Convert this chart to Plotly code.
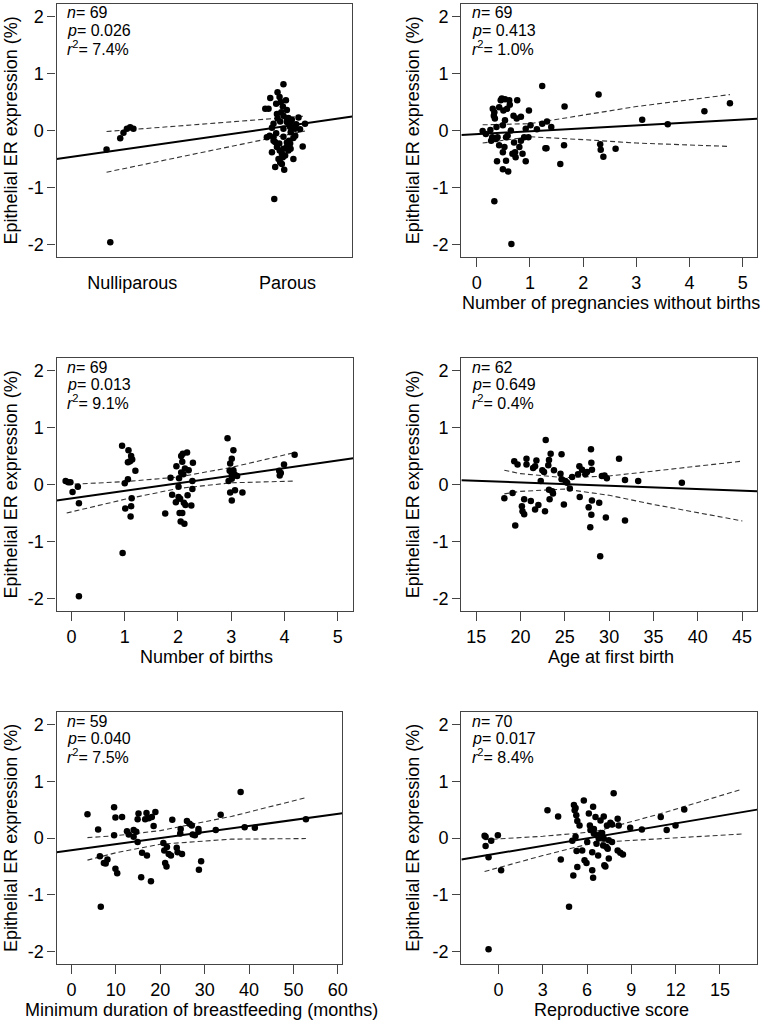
import plotly.graph_objects as go

W, H = 771, 1028

# ----------------------
# Data
# ----------------------
# Panel 1: parity (0 = Nulliparous, 1 = Parous; x jittered as drawn)
parity_x = [-0.165, -0.077, -0.056, -0.034, -0.013, 0.008, -0.141,
            0.974, 0.936, 0.889, 0.949, 0.957, 0.857, 0.878, 0.970, 0.996, 0.932,
            0.974, 1.006, 1.071, 0.936, 1.028, 1.113, 0.953, 0.996, 1.056, 0.900,
            1.017, 1.081, 0.885, 0.927, 0.974, 1.038, 0.910, 0.996, 1.017, 1.098,
            0.932, 0.974, 1.006, 0.900, 0.964, 0.985, 0.942, 1.038, 0.953, 0.964,
            0.921, 0.979, 0.915, 0.867, 0.947, 0.996, 1.021, 1.049, 0.974, 0.910,
            0.927, 0.996, 0.960, 0.990, 1.020, 0.920, 1.010, 0.950, 0.910, 1.050,
            0.970, 1.020]
parity_y = [-0.334, -0.135, -0.041, 0.029, 0.059, 0.029, -1.963,
            0.81, 0.67, 0.57, 0.59, 0.50, 0.38, 0.38, 0.42, 0.36, 0.29,
            0.26, 0.22, 0.23, 0.21, 0.19, 0.12, 0.16, 0.15, 0.11, 0.05,
            0.06, 0.02, -0.09, -0.05, -0.11, -0.13, -0.18, -0.21, -0.23, -0.28,
            -0.29, -0.32, -0.35, -0.38, -0.41, -0.44, -0.50, -0.50, -0.56, -0.59,
            -0.64, -0.69, -1.20, -0.12, -0.23, -0.29, -0.03, 0.03, 0.03, 0.12,
            0.47, 0.21, 0.32, 0.53, 0.15, -0.20, -0.18, -0.35, -0.12, -0.09,
            -0.47, -0.32]
parity_fit_x = [-0.487, 1.417]
parity_fit_y = [-0.50, 0.244]
parity_ci_x = [-0.165, 1.113]
parity_ci_up = [-0.018, 0.252]
parity_ci_lo = [-0.732, -0.01]

# Panel 2: number of pregnancies without births
preg_x = [0.11, 0.255, 0.27, 0.32, 0.33, 0.34, 0.37, 0.39, 0.42, 0.42, 0.38, 0.33,
          0.47, 0.49, 0.49, 0.50, 0.53, 0.53, 0.55, 0.55, 0.57, 0.58, 0.59, 0.62,
          0.65, 0.67, 0.69, 0.70, 0.72, 0.76, 0.75, 0.83, 0.83, 0.86, 0.92, 0.92,
          0.97, 0.98, 1.01, 1.13, 1.23, 1.23, 1.29, 1.31, 1.32, 1.40, 1.57, 1.64,
          1.65, 2.29, 2.32, 2.33, 2.38, 2.61, 3.11, 3.59, 4.28, 4.76,
          0.17, 0.30, 0.36, 0.45, 0.52, 0.61, 0.64, 0.73, 0.80, 0.89, 0.49, 0.29]
preg_y = [-0.01, 0.01, -0.18, 0.26, 0.32, 0.21, 0.06, -0.12, 0.41, -0.26, -0.54, -1.24,
          0.56, -0.38, -0.68, 0.35, 0.55, 0.18, -0.12, -0.53, 0.38, -0.09, -0.72, 0.45,
          -1.99, -0.41, 0.26, -0.21, -0.38, 0.53, 0.21, 0.24, -0.18, -0.41, 0.03, -0.54,
          -0.12, 0.35, 0.09, 0.02, 0.78, 0.12, -0.31, -0.31, 0.16, 0.06, -0.59, -0.26,
          0.42, 0.63, -0.24, -0.34, -0.46, -0.32, 0.19, 0.11, 0.34, 0.48,
          -0.06, 0.38, -0.15, 0.53, -0.29, 0.53, 0.0, -0.47, -0.29, -0.12, 0.09, -0.12]
preg_fit_x = [-0.29, 5.27]
preg_fit_y = [-0.078, 0.206]
preg_ci_x = [0.11, 1.0, 2.0, 3.0, 4.76]
preg_ci_up = [0.10, 0.12, 0.27, 0.42, 0.63]
preg_ci_lo = [-0.22, -0.11, -0.16, -0.22, -0.28]

# Panel 3: number of births
births_x = [-0.11, -0.06, -0.02, 0.02, 0.12, 0.14, 0.14,
            0.95, 1.07, 1.12, 1.14, 1.06, 1.20, 1.06, 1.00, 1.13, 1.01, 1.12, 1.11, 0.96,
            1.76, 1.86, 1.97, 2.02, 2.01, 2.01, 1.96, 2.04, 2.06, 2.09, 2.17, 2.08, 2.06,
            2.13, 2.20, 2.10, 2.27, 2.28, 2.27, 2.18, 2.11, 2.14, 2.25, 2.03, 2.08, 2.05,
            2.12,
            2.93, 3.04, 3.01, 2.98, 2.97, 3.04, 3.01, 3.11, 2.95, 3.01, 2.98, 3.07, 3.21,
            3.01,
            3.90, 3.91, 3.99, 4.19,
            3.06, 1.89, 1.10, 3.93]
births_y = [0.06, 0.04, 0.04, -0.13, -0.04, -0.33, -1.96,
            0.68, 0.60, 0.50, 0.44, 0.39, 0.24, 0.09, 0.02, -0.24, -0.42, -0.38, -0.56, -1.20,
            -0.51, 0.12, 0.32, 0.11, -0.04, -0.22, -0.31, -0.25, 0.50, 0.54, 0.56, 0.40, 0.21,
            0.28, 0.25, 0.18, 0.06, 0.38, -0.08, -0.19, -0.32, -0.36, -0.37, -0.50, -0.50,
            -0.65, -0.69,
            0.81, 0.60, 0.45, 0.37, 0.24, 0.25, 0.19, 0.15, 0.06, 0.10, -0.14, -0.10, -0.14,
            -0.28,
            0.24, 0.16, 0.35, 0.52,
            0.18, -0.18, 0.41, 0.20]
births_fit_x = [-0.28, 5.29]
births_fit_y = [-0.28, 0.459]
births_ci_x = [-0.09, 1.0, 2.0, 3.0, 4.19]
births_ci_up = [0.0, 0.05, 0.13, 0.30, 0.56]
births_ci_lo = [-0.50, -0.26, -0.07, 0.03, 0.06]

# Panel 4: age at first birth
age_x = [18.17, 19.1, 19.29, 19.66, 19.4, 20.15, 20.22, 20.41, 20.41, 20.67,
         20.67, 21.16, 21.42, 21.64, 21.79, 21.64, 22.01, 22.28, 22.46, 22.65,
         22.76, 22.84, 23.13, 23.21, 23.4, 23.21, 23.28, 23.58, 23.66, 23.77,
         24.51, 24.63, 24.63, 24.89, 25.07, 25.26, 25.56, 25.82, 26.49, 26.64,
         26.68, 26.94, 27.31, 27.5, 27.69, 27.95, 27.99, 28.06, 28.06, 27.99,
         27.87, 28.88, 28.99, 29.18, 29.48, 29.74, 29.63, 31.12, 31.79, 31.79,
         33.28, 38.21]
age_y = [-0.24, -0.15, 0.41, 0.35, -0.72, -0.38, -0.47, -0.52, -0.26, 0.45,
         0.35, -0.29, 0.29, 0.32, 0.42, -0.44, -0.36, 0.06, 0.25, 0.22,
         -0.47, 0.78, 0.34, 0.43, 0.54, -0.09, -0.26, -0.12, -0.16, 0.25,
         0.19, 0.53, 0.09, -0.35, 0.06, 0.03, -0.07, 0.13, 0.18, 0.32,
         -0.22, 0.26, 0.18, 0.22, -0.40, 0.62, 0.38, 0.26, -0.28, -0.53,
         -0.75, -0.32, -1.26, 0.15, 0.16, 0.11, -0.58, 0.45, 0.08, -0.63,
         0.06, 0.03]
age_fit_x = [13.32, 46.7]
age_fit_y = [0.076, -0.118]
age_ci_x = [18.17, 20, 25, 30, 35, 45.04]
age_ci_up = [0.25, 0.19, 0.12, 0.15, 0.235, 0.41]
age_ci_lo = [-0.165, -0.12, -0.08, -0.19, -0.35, -0.64]

# Panel 5: minimum duration of breastfeeding (months)
bf_x = [3.6, 6.0, 6.4, 6.6, 7.3, 7.7, 8.1, 9.6, 9.9, 9.6, 9.9, 10.3, 11.4, 12.5,
        12.9, 14.0, 14.6, 14.9, 15.1, 14.9, 15.7, 15.9, 16.6, 16.9, 17.0, 17.4,
        17.9, 18.1, 18.5, 18.9, 20.7, 20.9, 21.1, 21.4, 21.5, 21.9, 22.4, 22.7,
        23.7, 23.9, 24.9, 24.6, 24.5, 26.0, 26.6, 27.1, 27.3, 27.8, 28.6, 28.7,
        29.2, 32.5, 33.6, 38.1, 39.0, 41.3, 52.8, 14.0, 28.6]
bf_y = [0.42, 0.15, -0.32, -1.21, -0.44, -0.45, -0.38, 0.54, 0.36, 0.05, -0.54,
        -0.62, 0.37, 0.12, 0.06, 0.02, 0.11, 0.33, 0.43, -0.07, -0.69, -0.26,
        0.33, 0.44, -0.31, 0.35, -0.76, 0.37, 0.21, 0.46, -0.09, -0.22, -0.44,
        -0.50, -0.16, -0.28, -0.31, 0.32, -0.17, -0.25, -0.28, 0.16, 0.08, 0.30,
        0.25, 0.22, 0.06, 0.05, 0.16, -0.56, -0.41, 0.14, 0.41, 0.81, 0.19, 0.18,
        0.33, 0.14, 0.11]
bf_fit_x = [-3.36, 61.0]
bf_fit_y = [-0.253, 0.435]
bf_ci_x = [3.6, 10, 20, 36, 52.8]
bf_ci_up = [0.006, 0.04, 0.13, 0.38, 0.71]
bf_ci_lo = [-0.39, -0.26, -0.11, -0.02, -0.01]

# Panel 6: reproductive score
score_x = [-0.94, -0.87, -0.87, -0.67, -0.49, -0.04, 0.18, -0.67, 3.32, 4.04,
           4.22, 4.78, 5.0, 5.07, 5.11, 5.22, 5.22, 5.27, 5.29, 5.34, 5.34, 5.49,
           5.78, 5.83, 5.96, 6.12, 6.19, 6.35, 6.35, 6.41, 6.41, 6.46, 6.46, 6.57,
           6.64, 6.68, 6.75, 6.91, 6.95, 7.02, 7.09, 7.13, 7.17, 7.24, 7.31, 7.35,
           7.40, 7.47, 7.58, 7.69, 7.80, 8.07, 8.07, 8.14, 8.25, 8.43, 8.92, 9.71,
           10.99, 11.39, 11.99, 12.58, 5.16, 6.23, 6.79, 7.47, 5.67, 6.01, 7.13, 7.69]
score_y = [0.04, 0.02, -0.14, -0.34, -0.05, 0.05, -0.57, -1.96, 0.49, 0.38,
           -0.38, -1.21, -0.05, -0.66, 0.58, 0.53, 0.02, 0.40, -0.23, -0.51, 0.30,
           0.22, 0.66, -0.39, -0.44, 0.43, 0.22, -0.25, -0.57, 0.55, -0.70, 0.16,
           0.08, 0.37, -0.10, 0.05, -0.31, 0.31, 0.08, 0.09, -0.13, 0.38, -0.48,
           -0.50, -0.16, 0.22, -0.19, -0.36, 0.27, 0.24, 0.79, 0.34, -0.22, 0.22,
           -0.26, -0.29, 0.18, 0.15, 0.37, 0.14, 0.22, 0.50, 0.49, 0.14, -0.01,
           -0.04, -0.22, -0.07, -0.01, -0.07]
score_fit_x = [-2.51, 17.51]
score_fit_y = [-0.38, 0.50]
score_ci_x = [-0.94, 3, 6.5, 11, 16.5]
score_ci_up = [-0.03, 0.03, 0.11, 0.43, 0.86]
score_ci_lo = [-0.59, -0.31, -0.08, -0.01, 0.07]

stats = [("69", "0.026", "7.4%"), ("69", "0.413", "1.0%"),
         ("69", "0.013", "9.1%"), ("62", "0.649", "0.4%"),
         ("59", "0.040", "7.5%"), ("70", "0.017", "8.4%")]

x_titles = [None, "Number of pregnancies without births",
            "Number of births", "Age at first birth",
            "Minimum duration of breastfeeding (months)", "Reproductive score"]

y_title = "Epithelial ER expression (%)"
y_ticks = [-2, -1, 0, 1, 2]
y_ticktext = ["-2", "-1", "0", "1", "2"]

# ----------------------
# Panel geometry (pixels)
# ----------------------
FONT = "Liberation Sans, Arial, sans-serif"
boxes = [  # left, right, top, bottom
    (57, 355, 4, 257), (465, 763, 4, 257),
    (57, 356, 358, 611), (465, 763, 358, 611),
    (57, 345, 712, 964), (465, 763, 712, 964),
]

panels = [
    dict(x=parity_x, y=parity_y, fx=parity_fit_x, fy=parity_fit_y,
         cx=parity_ci_x, cu=parity_ci_up, cl=parity_ci_lo,
         xr=[-0.487, 1.417], tv=[0, 1], tt=["Nulliparous", "Parous"]),
    dict(x=preg_x, y=preg_y, fx=preg_fit_x, fy=preg_fit_y,
         cx=preg_ci_x, cu=preg_ci_up, cl=preg_ci_lo,
         xr=[-0.29, 5.27], tv=[0, 1, 2, 3, 4, 5], tt=None),
    dict(x=births_x, y=births_y, fx=births_fit_x, fy=births_fit_y,
         cx=births_ci_x, cu=births_ci_up, cl=births_ci_lo,
         xr=[-0.28, 5.29], tv=[0, 1, 2, 3, 4, 5], tt=None),
    dict(x=age_x, y=age_y, fx=age_fit_x, fy=age_fit_y,
         cx=age_ci_x, cu=age_ci_up, cl=age_ci_lo,
         xr=[13.32, 46.7], tv=[15, 20, 25, 30, 35, 40, 45], tt=None),
    dict(x=bf_x, y=bf_y, fx=bf_fit_x, fy=bf_fit_y,
         cx=bf_ci_x, cu=bf_ci_up, cl=bf_ci_lo,
         xr=[-3.36, 61.0], tv=[0, 10, 20, 30, 40, 50, 60], tt=None),
    dict(x=score_x, y=score_y, fx=score_fit_x, fy=score_fit_y,
         cx=score_ci_x, cu=score_ci_up, cl=score_ci_lo,
         xr=[-2.51, 17.51], tv=[0, 3, 6, 9, 12, 15], tt=None),
]

fig = go.Figure()
layout = dict(width=W, height=H, margin=dict(l=0, r=0, t=0, b=0),
              paper_bgcolor="white", plot_bgcolor="white", showlegend=False,
              font=dict(family=FONT, size=18, color="black"))
annotations = []

for i, (p, box) in enumerate(zip(panels, boxes)):
    k = "" if i == 0 else str(i + 1)
    xa, ya = "x" + k, "y" + k
    left, right, top, bottom = box

    fig.add_trace(go.Scatter(x=p["cx"], y=p["cu"], mode="lines", xaxis=xa, yaxis=ya,
                             line=dict(color="#333333", width=1.1, dash="5px,3px")))
    fig.add_trace(go.Scatter(x=p["cx"], y=p["cl"], mode="lines", xaxis=xa, yaxis=ya,
                             line=dict(color="#333333", width=1.1, dash="5px,3px")))
    fig.add_trace(go.Scatter(x=p["fx"], y=p["fy"], mode="lines", xaxis=xa, yaxis=ya,
                             line=dict(color="black", width=2)))
    fig.add_trace(go.Scatter(x=p["x"], y=p["y"], mode="markers", xaxis=xa, yaxis=ya,
                             marker=dict(color="black", size=6.5, line=dict(width=0))))

    axis_common = dict(showgrid=False, zeroline=False, showline=True, mirror=True,
                       linecolor="#444444", linewidth=1.3, ticks="outside",
                       tickcolor="#444444", tickwidth=1.3,
                       tickfont=dict(family=FONT, size=18, color="black"))
    xaxis = dict(axis_common, domain=[left / W, right / W], range=p["xr"],
                 anchor=ya, tickvals=p["tv"], ticklen=9)
    if p["tt"] is not None:
        xaxis.update(ticktext=p["tt"], tickcolor="rgba(0,0,0,0)")
    yaxis = dict(axis_common, domain=[1 - bottom / H, 1 - top / H], range=[-2.22, 2.22],
                 anchor=xa, tickvals=y_ticks, ticktext=y_ticktext, ticklen=8)
    layout["xaxis" + k] = xaxis
    layout["yaxis" + k] = yaxis

    # n / p / r^2 block
    n, pv, r2 = stats[i]
    for j, txt in enumerate([f"<i>n</i>= {n}", f"<i>p</i>= {pv}",
                             f"<i>r</i><sup>2</sup>= {r2}"]):
        annotations.append(dict(text=txt, xref="paper", yref="paper",
                                x=(left + 9) / W, y=1 - (top + 9 + 17.5 * j) / H,
                                xanchor="left", yanchor="middle", showarrow=False,
                                font=dict(family=FONT, size=16, color="black")))

    # axis titles
    cx = (left + right) / 2
    if x_titles[i]:
        annotations.append(dict(text=x_titles[i], xref="paper", yref="paper",
                                x=(cx + 2) / W, y=1 - (bottom + 46) / H,
                                xanchor="center", yanchor="middle", showarrow=False,
                                font=dict(family=FONT, size=18, color="black")))
    ytx = 11 if left < 200 else 416
    annotations.append(dict(text=y_title, xref="paper", yref="paper", textangle=-90,
                            x=ytx / W, y=1 - (top + bottom) / 2 / H,
                            xanchor="center", yanchor="middle", showarrow=False,
                            font=dict(family=FONT, size=18, color="black")))

layout["annotations"] = annotations
fig.update_layout(**layout)

# drop the browser's default body margin so the figure sits at the page origin
fig.write_html("out.html", config={"displayModeBar": False},
               post_script="document.body.style.margin='0';")
